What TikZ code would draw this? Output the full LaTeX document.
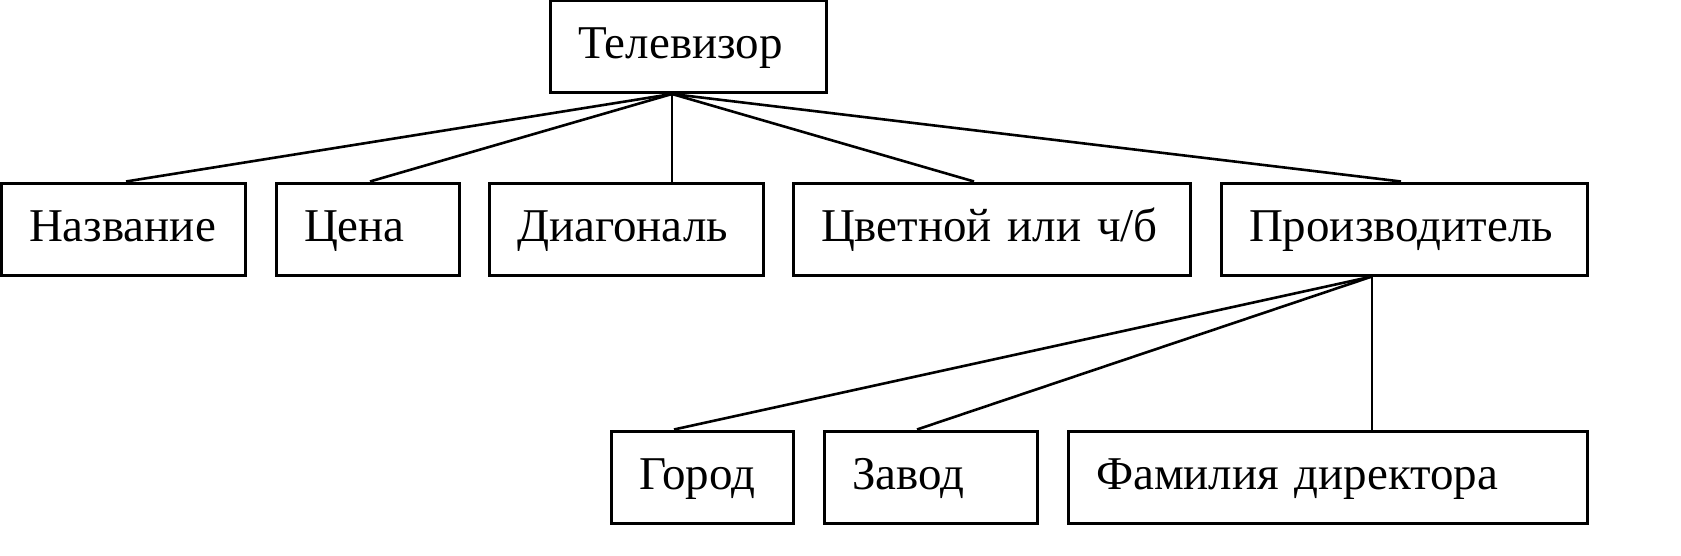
\documentclass[tikz,border=0pt]{standalone}
\usepackage{fontspec}
\setmainfont{Liberation Serif}
\usetikzlibrary{shapes,positioning}

\begin{document}
\begin{tikzpicture}[x=0.5pt,y=-0.5pt]
	\tikzstyle{box} = [
		draw,
		rectangle,
		line width=1.5pt,
		align=left,
		inner xsep=14pt,
		inner ysep=0pt,
		text height=29pt,
		text depth=17pt,
		font=\fontsize{23.5}{28}\selectfont
	]
	\tikzstyle{link} = [line width=1.3pt]

	\useasboundingbox (0,0) rectangle (1681,556);

	\node (tv) [style=box, text width=110pt] at (688,46.5) {Телевизор};

	\node (naz) [style=box, text width=94pt] at (123,229) {Название};
	\node (cena) [style=box, text width=63.5pt] at (367.5,229) {Цена};
	\node (diag) [style=box, text width=109pt] at (626,229) {Диагональ};
	\node (cvet) [style=box, text width=170.5pt] at (991.5,229) {\mbox{Цветной или ч/б}};
	\node (proizv) [style=box, text width=155pt] at (1404,229) {Производитель};

	\node (gorod) [style=box, text width=63pt] at (702,477) {Город};
	\node (zavod) [style=box, text width=78.5pt] at (930.5,477) {Завод};
	\node (fam) [style=box, text width=231.5pt] at (1327.5,477) {Фамилия директора};

	\draw [link] ([xshift=-8pt]tv.south) -- ([xshift=1.5pt]naz.north);
	\draw [link] ([xshift=-8pt]tv.south) -- ([xshift=1.25pt]cena.north);
	\draw [link] ([xshift=-8pt]tv.south) -- ([xshift=23pt]diag.north);
	\draw [link] ([xshift=-8pt]tv.south) -- ([xshift=-8.75pt]cvet.north);
	\draw [link] ([xshift=-8pt]tv.south) -- ([xshift=-1.5pt]proizv.north);

	\draw [link] ([xshift=-16pt]proizv.south) -- ([xshift=-14pt]gorod.north);
	\draw [link] ([xshift=-16pt]proizv.south) -- ([xshift=-6.75pt]zavod.north);
	\draw [link] ([xshift=-16pt]proizv.south) -- ([xshift=22.25pt]fam.north);

\end{tikzpicture}
\end{document}
